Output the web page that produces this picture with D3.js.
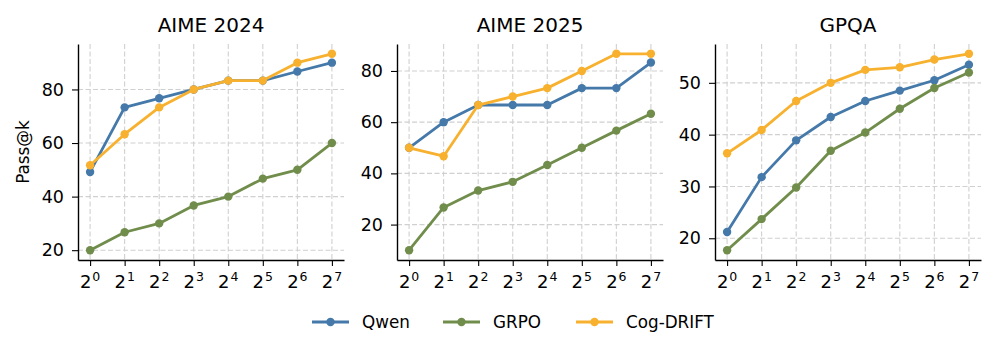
<!DOCTYPE html>
<html>
<head>
<meta charset="utf-8">
<script src="https://cdn.jsdelivr.net/npm/d3@7"></script>
<style>
  body { margin: 0; background: #fff; }
  svg { font-family: "DejaVu Sans", sans-serif; }
</style>
</head>
<body>
<div id="chart"></div>
<script>
// exponents for k = 2^0 .. 2^7
const exponents = [0, 1, 2, 3, 4, 5, 6, 7];
const seriesNames = ['Qwen', 'GRPO', 'Cog-DRIFT'];
const colors = ['#4479a9', '#718d4c', '#f7b12f'];

const aime24Qwen = [49.2, 73.3, 76.7, 80.0, 83.3, 83.3, 86.7, 90.0];
const aime24Grpo = [20.0, 26.7, 30.0, 36.7, 40.0, 46.7, 50.0, 60.0];
const aime24Cog  = [51.7, 63.3, 73.3, 80.0, 83.3, 83.3, 90.0, 93.3];

const aime25Qwen = [50.0, 60.0, 66.7, 66.7, 66.7, 73.3, 73.3, 83.3];
const aime25Grpo = [10.0, 26.7, 33.3, 36.7, 43.3, 50.0, 56.7, 63.3];
const aime25Cog  = [50.0, 46.7, 66.7, 70.0, 73.3, 80.0, 86.7, 86.7];

const gpqaQwen = [21.2, 31.8, 38.9, 43.4, 46.5, 48.5, 50.5, 53.5];
const gpqaGrpo = [17.7, 23.7, 29.8, 36.9, 40.4, 45.0, 49.0, 52.0];
const gpqaCog  = [36.4, 40.9, 46.5, 50.0, 52.5, 53.0, 54.5, 55.6];

const panels = [
    { title: 'AIME 2024', series: [aime24Qwen, aime24Grpo, aime24Cog], ticks: [20, 40, 60, 80], left: 78 },
    { title: 'AIME 2025', series: [aime25Qwen, aime25Grpo, aime25Cog], ticks: [20, 40, 60, 80], left: 397 },
    { title: 'GPQA', series: [gpqaQwen, gpqaGrpo, gpqaCog], ticks: [20, 30, 40, 50], left: 715 }
];

const width = 996, height = 354;
const plotTop = 44, plotBottom = 260, panelWidth = 266;
const innerH = plotBottom - plotTop;

const svg = d3.select('#chart')
    .append('svg')
    .attr('width', width)
    .attr('height', height);

panels.forEach(p => {
    const all = p.series.flat();
    const lo = d3.min(all), hi = d3.max(all);
    const pad = (hi - lo) * 0.05;

    const x = d3.scaleLinear().domain([-0.35, 7.35]).range([0, panelWidth]);
    const y = d3.scaleLinear().domain([lo - pad, hi + pad]).range([innerH, 0]);

    const g = svg.append('g').attr('transform', `translate(${p.left}, ${plotTop})`);

    // grid
    g.append('g').selectAll('line')
        .data(exponents)
        .join('line')
        .attr('x1', d => x(d)).attr('x2', d => x(d))
        .attr('y1', 0).attr('y2', innerH)
        .attr('stroke', '#d0d0d0').attr('stroke-width', 1.1)
        .attr('stroke-dasharray', '5,2.5');
    g.append('g').selectAll('line')
        .data(p.ticks)
        .join('line')
        .attr('x1', 0).attr('x2', panelWidth)
        .attr('y1', d => y(d)).attr('y2', d => y(d))
        .attr('stroke', '#d0d0d0').attr('stroke-width', 1.1)
        .attr('stroke-dasharray', '5,2.5');

    // axes
    const xAxis = g.append('g')
        .attr('transform', `translate(0, ${innerH})`)
        .call(d3.axisBottom(x).tickValues(exponents).tickSize(6).tickSizeOuter(0).tickFormat(() => ''));
    const yAxis = g.append('g')
        .call(d3.axisLeft(y).tickValues(p.ticks).tickSize(6).tickSizeOuter(0));
    [xAxis, yAxis].forEach(a => {
        a.select('.domain').attr('stroke', '#000').attr('stroke-width', 1.4);
        a.selectAll('.tick line').attr('stroke', '#000').attr('stroke-width', 1.1);
        a.selectAll('.tick text').attr('fill', '#000').attr('font-size', 17.5)
            .attr('font-family', '"DejaVu Sans", sans-serif');
    });
    yAxis.selectAll('.tick text').attr('x', -14);

    // x tick labels as 2^n
    const xl = g.append('g').selectAll('text')
        .data(exponents)
        .join('text')
        .attr('x', d => x(d))
        .attr('y', innerH + 28)
        .attr('text-anchor', 'middle')
        .attr('font-size', 18);
    xl.append('tspan').text('2');
    xl.append('tspan').attr('dy', -7).attr('dx', 1).attr('font-size', 12.5).text(d => d);

    // series
    p.series.forEach((vals, i) => {
        const line = d3.line().x((d, j) => x(exponents[j])).y(d => y(d));
        g.append('path')
            .datum(vals)
            .attr('d', line)
            .attr('fill', 'none')
            .attr('stroke', colors[i])
            .attr('stroke-width', 2.8)
            .attr('stroke-linejoin', 'round');
        g.append('g').selectAll('circle')
            .data(vals)
            .join('circle')
            .attr('cx', (d, j) => x(exponents[j]))
            .attr('cy', d => y(d))
            .attr('r', 4.2)
            .attr('fill', colors[i]);
    });

    svg.append('text')
        .attr('x', p.left + panelWidth / 2)
        .attr('y', 32)
        .attr('text-anchor', 'middle')
        .attr('font-size', 20)
        .text(p.title);
});

svg.append('text')
    .attr('transform', `translate(29, ${(plotTop + plotBottom) / 2}) rotate(-90)`)
    .attr('text-anchor', 'middle')
    .attr('font-size', 16.8)
    .text('Pass@k');

// legend
const legendX = [312, 443, 576];
const legend = svg.append('g').attr('transform', 'translate(0, 322)');
seriesNames.forEach((name, i) => {
    const lg = legend.append('g').attr('transform', `translate(${legendX[i]}, 0)`);
    lg.append('line').attr('x1', 0).attr('x2', 37).attr('y1', 0).attr('y2', 0)
        .attr('stroke', colors[i]).attr('stroke-width', 2.8);
    lg.append('circle').attr('cx', 18.5).attr('cy', 0).attr('r', 4.2).attr('fill', colors[i]);
    lg.append('text').attr('x', 50).attr('y', 0).attr('dy', '0.35em')
        .attr('font-size', 16.8).text(name);
});
</script>
</body>
</html>
